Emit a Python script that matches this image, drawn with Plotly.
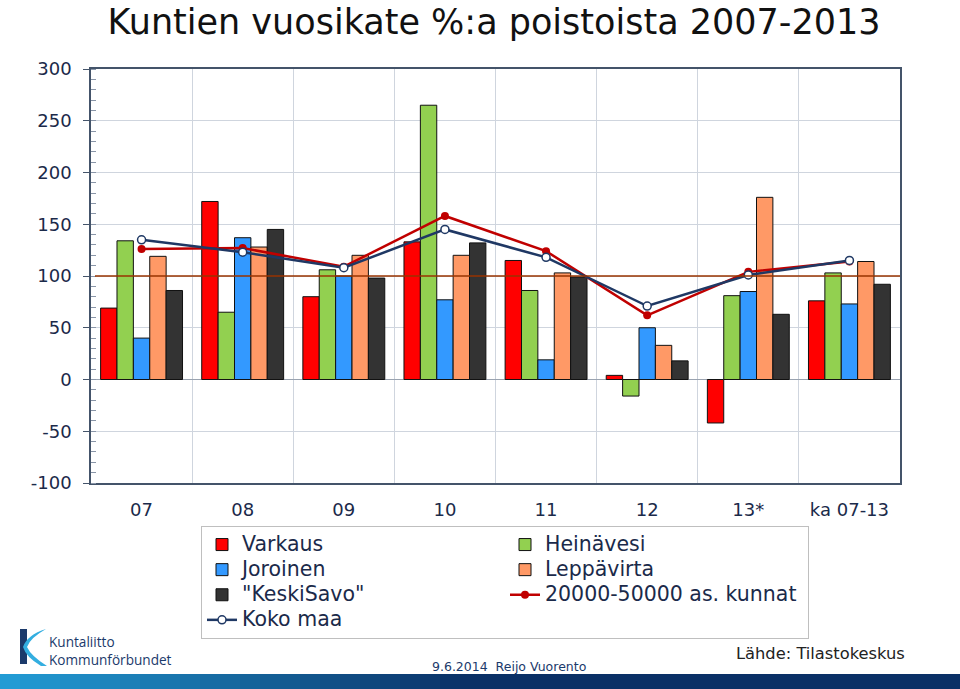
import plotly.graph_objects as go

# ---- data ----
categories = ["07", "08", "09", "10", "11", "12", "13*", "ka 07-13"]
varkaus = [69, 172, 80, 133, 115, 4, -42, 76]
heinavesi = [134, 65, 106, 265, 86, -16, 81, 103]
joroinen = [40, 137, 100, 77, 19, 50, 85, 73]
leppavirta = [119, 128, 120, 120, 103, 33, 176, 114]
keskisavo = [86, 145, 98, 132, 99, 18, 63, 92]
kunnat_20_50k = [126, 127, 109, 158, 124, 62, 104, 114]
koko_maa = [135, 123, 108, 145, 118, 71, 101, 115]
reference_level = 100
y_ticks = [-100, -50, 0, 50, 100, 150, 200, 250, 300]
y_ticktext = ["-100", "-50", "0", "50", "100", "150", "200", "250", "300"]

W, H = 960, 689
L, R, T, B = 91, 900, 69, 483


def px(x):
    return (x - L) / (R - L)


def py(y):
    return (B - y) / (B - T)


NAVY_TXT = "#1b2a4a"
LEG_TXT = "<span style='font-size:20.5px'>%s</span>"
fig = go.Figure()

bar_specs = [
    ("Varkaus", varkaus, "#ff0000"),
    ("Heinävesi", heinavesi, "#92d050"),
    ("Joroinen", joroinen, "#3399ff"),
    ("Leppävirta", leppavirta, "#ff9966"),
    ('"KeskiSavo"', keskisavo, "#333333"),
]
for name, vals, col in bar_specs:
    fig.add_trace(go.Bar(
        x=categories, y=vals, name=LEG_TXT % name,
        marker=dict(color=col, line=dict(color="#111111", width=1)),
    ))

fig.add_trace(go.Scatter(
    x=categories, y=kunnat_20_50k, name=LEG_TXT % "20000-50000 as. kunnat",
    mode="lines+markers",
    line=dict(color="#c00000", width=2.5),
    marker=dict(color="#c00000", size=8, symbol="circle"),
))
fig.add_trace(go.Scatter(
    x=categories, y=koko_maa, name=LEG_TXT % "Koko maa",
    mode="lines+markers",
    line=dict(color="#1f3864", width=2.5),
    marker=dict(color="white", size=8, symbol="circle",
                line=dict(color="#1f3864", width=1.5)),
))

shapes = []
# reference line at 100
shapes.append(dict(type="line", xref="paper", yref="y", x0=px(95), x1=1,
                   y0=reference_level, y1=reference_level,
                   line=dict(color="#993300", width=1.5), layer="above"))

# footer gradient bar
n = 48
c0 = (35, 158, 215)
c1 = (10, 48, 102)
for i in range(n):
    x0 = W * i / n
    x1 = W * (i + 1) / n + 1
    t = min(1.0, (x0 + x1) / 2 / 470)
    c = tuple(int(c0[k] + (c1[k] - c0[k]) * t) for k in range(3))
    shapes.append(dict(type="rect", xref="paper", yref="paper",
                       x0=px(x0), x1=px(x1), y0=py(689), y1=py(674),
                       line=dict(width=0), fillcolor="rgb(%d,%d,%d)" % c, layer="above"))

# logo
shapes.append(dict(type="rect", xref="paper", yref="paper",
                   x0=px(20), x1=px(27), y0=py(664), y1=py(629),
                   line=dict(width=0), fillcolor="#1b3a6b"))


def pathp(pts):
    s = ""
    for cmd, pp in pts:
        s += cmd + " ".join("%f,%f" % (px(a), py(b)) for a, b in pp) + " "
    return s + "Z"


swoosh = pathp([
    ("M", [(46, 629)]),
    ("Q", [(30, 638), (27, 647)]),
    ("Q", [(31, 656), (47, 666)]),
    ("L", [(41, 666)]),
    ("Q", [(26, 657), (23, 647)]),
    ("Q", [(27, 635), (46, 629)]),
])
shapes.append(dict(type="path", xref="paper", yref="paper", path=swoosh,
                   line=dict(width=0), fillcolor="#33aee0"))

annotations = [
    dict(text="Kuntaliitto<br>Kommunförbundet", x=px(48), y=py(650), xref="paper", yref="paper",
         xanchor="left", yanchor="middle", align="left", showarrow=False, borderpad=0,
         font=dict(family="Open Sans", size=13.6, color="#1b3a6b")),
    dict(text="9.6.2014  Reijo Vuorento", x=px(430), y=py(666), xref="paper", yref="paper",
         xanchor="left", yanchor="middle", showarrow=False,
         font=dict(family="DejaVu Sans", size=12.5, color="#1b3a6b")),
    dict(text="Lähde: Tilastokeskus", x=px(734), y=py(653), xref="paper", yref="paper",
         xanchor="left", yanchor="middle", showarrow=False,
         font=dict(family="DejaVu Sans", size=16.3, color="#222222")),
]

fig.update_layout(
    width=W, height=H,
    margin=dict(l=L, r=W - R, t=T, b=H - B, autoexpand=False),
    paper_bgcolor="white", plot_bgcolor="white",
    barmode="group", bargap=0.19, bargroupgap=0,
    title=dict(text="Kuntien vuosikate %:a poistoista 2007-2013",
               x=494 / W, xref="container", xanchor="center",
               y=1 - 22 / H, yref="container", yanchor="middle",
               font=dict(family="DejaVu Sans", size=35, color="#111111")),
    font=dict(family="DejaVu Sans", color=NAVY_TXT),
    xaxis=dict(type="category", tickson="boundaries", showgrid=True,
               gridcolor="#cfd5de", gridwidth=1,
               showline=True, linecolor="#44546a", linewidth=1.5, mirror=True,
               ticks="", tickfont=dict(size=18, color=NAVY_TXT),
               ticklabelstandoff=10),
    yaxis=dict(range=[-100, 300], tickvals=y_ticks, ticktext=y_ticktext, showgrid=True,
               gridcolor="#cfd5de", gridwidth=1, zeroline=True,
               zerolinecolor="#9aa3b0", zerolinewidth=1,
               showline=True, linecolor="#44546a", linewidth=1.5, mirror=True,
               ticks="outside", ticklen=6, tickcolor="#44546a",
               minor=dict(dtick=10, ticks="inside", ticklen=5, tickcolor="#8a96a8", showgrid=False),
               tickfont=dict(size=18, color=NAVY_TXT), ticklabelstandoff=8),
    legend=dict(orientation="h", x=px(201), y=py(526), xanchor="left", yanchor="top",
                xref="paper", yref="paper",
                entrywidth=258, entrywidthmode="pixels",
                bordercolor="#bfbfbf", borderwidth=1, bgcolor="white",
                font=dict(family="DejaVu Sans", size=17, color=NAVY_TXT),
                traceorder="normal"),
    shapes=shapes, annotations=annotations,
)

fig.write_html("out.html")
